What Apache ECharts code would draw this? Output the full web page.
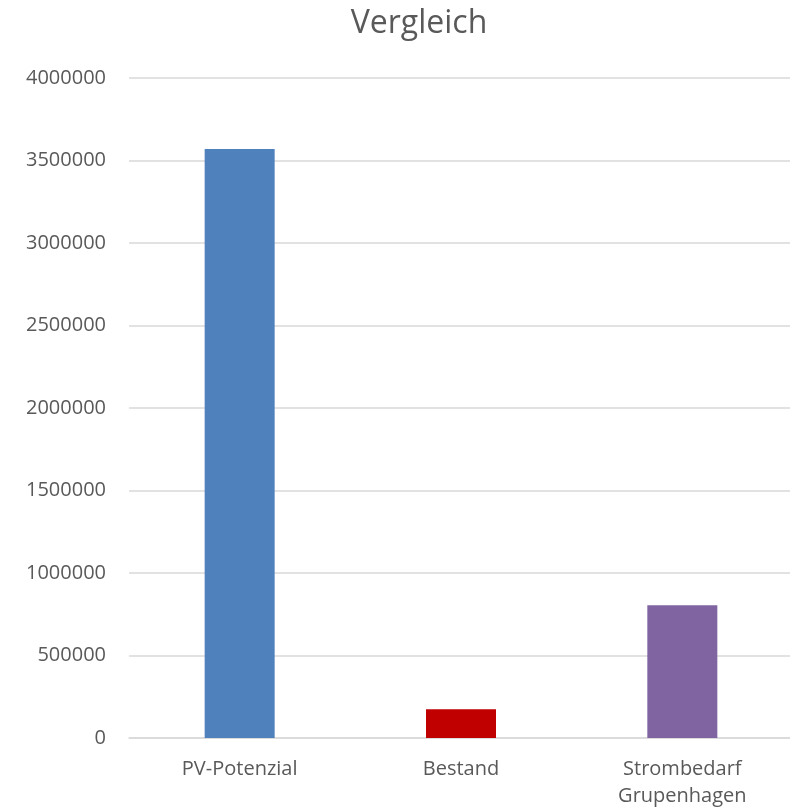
<!DOCTYPE html>
<html>
<head>
<meta charset="utf-8">
<script src="https://cdn.jsdelivr.net/npm/echarts@6/dist/echarts.min.js"></script>
<style>
  html, body { margin: 0; padding: 0; background: #fff; }
  #chart { width: 790px; height: 808px; }
</style>
</head>
<body>
<div id="chart"></div>
<script>
  var categories = ['PV-Potenzial', 'Bestand', 'Strombedarf\nGrupenhagen'];
  var values = [3570000, 175000, 805000];
  var barColors = ['#4F81BD', '#C00000', '#8064A2'];
  var yTicks = { min: 0, max: 4000000, step: 500000 };

  var chart = echarts.init(document.getElementById('chart'));

  var option = {
    animation: false,
    title: {
      text: 'Vergleich',
      left: 414,
      top: 3,
      textAlign: 'center',
      textStyle: { fontFamily: 'Open Sans', fontSize: 32, fontWeight: 'normal', color: '#595959' }
    },
    // keep the plot box fixed; labels may run to the page edge
    grid: { left: 129, top: 78, width: 664, height: 660, containLabel: false, outerBoundsMode: 'none' },
    xAxis: {
      type: 'category',
      data: categories,
      axisLine: { lineStyle: { color: '#D9D9D9', width: 1.5 } },
      axisTick: { show: false },
      axisLabel: {
        margin: 18,
        fontFamily: 'Open Sans',
        fontSize: 20,
        lineHeight: 27,
        color: '#595959'
      }
    },
    yAxis: {
      type: 'value',
      min: yTicks.min,
      max: yTicks.max,
      interval: yTicks.step,
      axisLine: { show: false },
      axisTick: { show: false },
      splitLine: { lineStyle: { color: '#D9D9D9', width: 1.5 } },
      axisLabel: {
        margin: 23,
        fontFamily: 'Open Sans',
        fontSize: 20,
        color: '#595959',
        formatter: function (v) { return String(v); }
      }
    },
    series: [{
      type: 'bar',
      barWidth: 70,
      data: values.map(function (v, i) {
        return { value: v, itemStyle: { color: barColors[i] } };
      })
    }]
  };

  chart.setOption(option);
</script>
</body>
</html>
